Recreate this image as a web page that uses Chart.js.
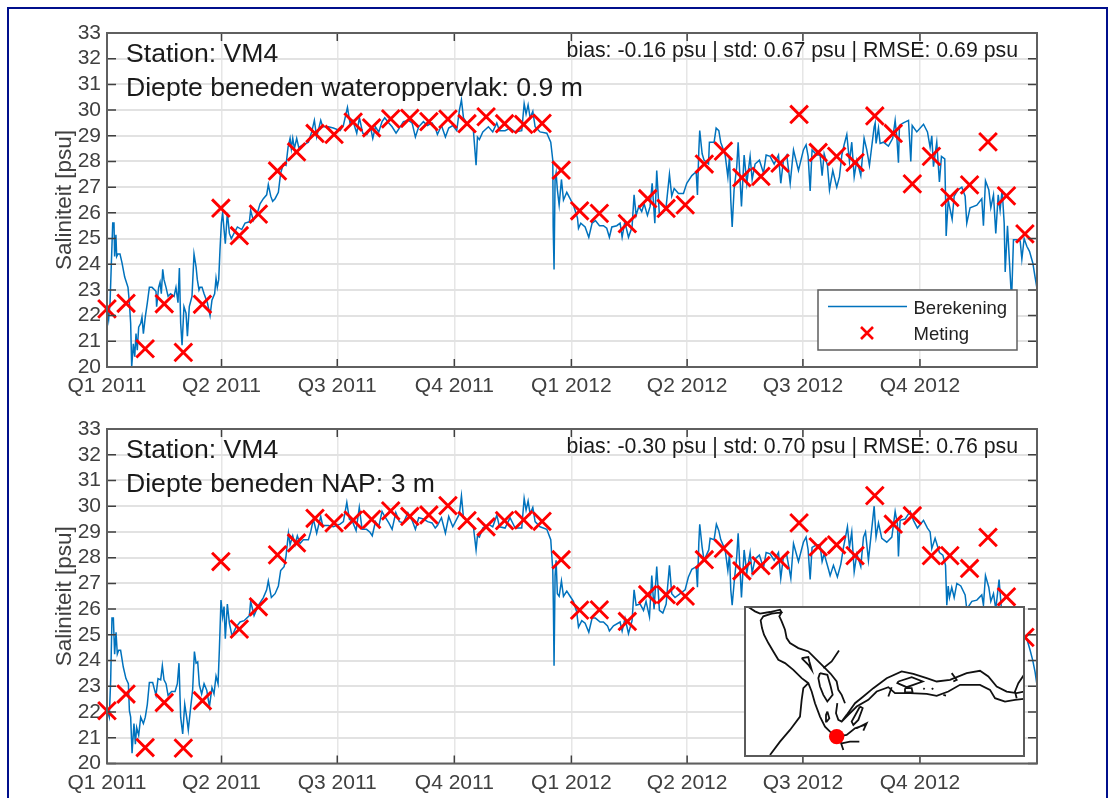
<!DOCTYPE html>
<html>
<head>
<meta charset="utf-8">
<script src="https://cdn.jsdelivr.net/npm/chart.js@4/dist/chart.umd.min.js"></script>
<style>
html,body{margin:0;padding:0;background:#fff;width:1108px;height:798px;overflow:hidden}
canvas{position:absolute;display:block}
#frame{position:absolute;left:7px;top:7px;width:1097px;height:900px;border:2px solid #000f8c;box-sizing:content-box}
#c1{left:0;top:0}
#c2{left:0;top:396px}
#map{left:745px;top:607px;background:#fff;outline:2px solid #5a5a5a;outline-offset:-1px}
</style>
</head>
<body>
<div id="frame"></div>
<canvas id="c1" width="1108" height="400"></canvas>
<canvas id="c2" width="1108" height="402"></canvas>
<canvas id="map" width="279" height="149"></canvas>
<script>
const quarterDays = [0,90,181,273,365,456,547,639];
const quarterLabels = ['Q1 2011','Q2 2011','Q3 2011','Q4 2011','Q1 2012','Q2 2012','Q3 2012','Q4 2012'];
const meetDays = [0,15,30,45,60,75,89.5,104,119,134,149,163.5,178.5,193.5,208,223,238,253,268,283,298,312.5,327.5,342,357,371.5,387,409,425,439.5,454.5,469.5,484.5,499,514,529,544,559,573.5,588,603.5,618,633,648,662.5,678,692.5,707,721.5];
const meetVals1 = [22.26,22.48,20.71,22.46,20.57,22.44,26.18,25.11,25.95,27.63,28.37,29.09,29.05,29.53,29.31,29.66,29.68,29.55,29.65,29.47,29.74,29.47,29.44,29.48,27.66,26.08,25.98,25.58,26.55,26.17,26.31,27.9,28.4,27.37,27.42,27.93,29.83,28.35,28.2,27.96,29.77,29.09,27.13,28.2,26.6,27.09,28.76,26.66,25.18];
const meetVals2 = [22.05,22.7,20.62,22.37,20.6,22.44,27.85,25.22,26.09,28.11,28.57,29.53,29.35,29.46,29.49,29.82,29.6,29.66,30.02,29.44,29.2,29.44,29.47,29.41,27.92,25.96,25.97,25.52,26.56,26.56,26.5,27.92,28.36,27.49,27.69,27.9,29.35,28.42,28.5,28.08,30.41,29.3,29.63,28.08,28.08,27.58,28.79,26.48,24.9];

const lineDays1 = [0.3,1.3,2.4,3.4,4.5,5.5,6,7,7.6,8.6,10.2,11.8,13.9,16.5,17.6,18.6,19.4,20.7,21.8,22.8,23.8,24.9,26.5,27.5,28.6,30.1,31.7,33.3,35.4,38.5,39,40.6,41.7,42.7,43.8,44.8,46.4,48,50,52.7,54.2,55.8,56.9,57.9,59,60.5,62.1,63.2,64.7,66.8,68.4,70,71,72.3,73.1,74.7,76.3,78.9,81,82.5,84.6,85.7,86.7,87.8,88.8,89.9,90.9,92,93,94.6,96.2,97.7,99.8,102.5,105.9,108.5,111.9,112.9,115,118.2,120.3,122.9,125.5,126.8,128.7,130.2,132.1,134.7,136.5,138.6,140.7,142.3,143.9,144.9,146,147.3,149.1,150.7,154.3,158.3,160.9,163,164.8,168,169.5,174,177.9,
183.2,185.8,189,191,193.2,196.3,198.4,201,204.2,207.3,208.9,211,213.6,216.2,218.3,221.5,224.1,227.2,229.8,233,236.9,239.8,242.4,245,248.7,251.9,255.5,258.1,259.7,262.9,266,268.6,271.8,274.9,277,278.6,280.2,284.1,288,290.1,291.2,292.7,295.4,299.8,303.2,306.4,308.5,312.9,316.8,320.8,326,327.9,329.4,331,332.6,334.7,336.5,340.4,345.7,348.8,350.4,350.7,351.4,352.2,353,354,355.4,357.2,358.8,361.4,
364,366.6,369.8,370.6,372.4,375.8,378.7,381.3,383.9,387.1,390.2,392.8,394.9,396.8,400.7,403.3,404.9,407,409.9,412.7,414.3,415.9,418,420.3,422.2,424.8,426.9,428.5,430.6,432.1,434.2,436.9,439.5,442.1,443.9,445.8,449.2,453.1,455.7,459.7,463.1,464.1,465.2,465.9,467.8,469.3,472.8,473.5,477.2,478.8,480.9,482.4,485.9,488,489.3,490.3,491.4,492.9,495,496.1,497.6,498.7,500.8,502.9,505.5,507.1,509.4,512.8,516,518.1,521.2,524.4,527.8,529.6,531.7,534.3,537,539.6,543.5,
547.4,549.5,551.1,552.7,554.2,557.9,560.5,562.1,563.7,566.3,567.9,570.5,573.6,575.7,577.6,579.4,581.5,583.6,585.4,587.3,589.4,592.5,595.1,597.2,599.3,603,603.8,604.5,606.4,607.7,610.3,614.2,617.6,619.5,620.8,622.1,622.9,626,630,631.8,632.9,636.5,641.8,644.9,647,648.3,649.6,652.2,654.3,655.9,658.5,659.1,659.6,661.2,664.3,665.9,669,671.9,674.5,675.8,678.4,683.7,687.6,688.9,690.5,693.1,694.7,696.8,698.6,700.5,702,703.6,705.2,706,707.8,709.4,711,712.5,715.1,717.8,719.1,720.9,723,725.1,727.7,729.5,731];
const lineVals1 = [22.2,21.85,22.5,24,25.6,25.6,24.3,25.15,24.3,24.4,24.4,24.05,23.5,23.1,22.5,21.7,20,20.9,20.4,21.3,20.65,21.55,21.7,21.95,21.3,21.95,22.5,23.1,23.1,22.95,22.35,23.1,23.3,22.85,23.8,23.4,23.1,22.75,22.85,22.75,23.1,22.5,23.85,21.7,20.85,22.35,22.1,21.2,22.35,22.75,24.4,23.9,23.4,23,23.1,23.1,22.85,22.5,22,22.6,22.85,23.45,23.1,23.4,24.55,25.6,26,25.35,24.8,26,25.2,25,25.2,25.45,25.35,25.6,25.65,26.1,25.7,26,26.35,26.55,26.7,27.1,26.65,26.45,26.55,26.8,27.55,27.9,27.85,28.55,28.9,28.5,28.9,28.5,28.9,28.55,28.65,28.75,29.15,29.6,28.95,29.6,29.35,29.35,29.3,
29.2,29.4,30.1,29.5,29.6,29.1,29.7,29.1,29.05,29.3,28.9,29.35,29.15,29.55,29.7,29.5,29.35,29.1,29.3,29.55,29.6,29.5,28.95,29.35,29.55,29.4,29.5,29.3,29.05,29.4,28.95,29.3,29.4,29.2,30,30.4,29.7,29.4,29.2,27.85,28.95,28.85,29.15,29.35,29.15,29.5,29.2,29.2,29.3,29.15,29.2,30.25,29.85,30.2,29.7,29.95,29.35,29.15,29.1,28.75,28.05,25.45,23.8,27.3,27.55,26.9,26.3,27.3,26.5,26.8,
26.55,26.3,25.8,25.4,25.6,25.45,25.05,25.6,25.7,25.5,25.5,25.4,25.05,25.45,25.5,25.6,25.05,25.65,25.05,25.45,26.7,25.9,26.25,26.05,26.35,25.9,26.25,27.15,25.6,27.65,25.9,26,26.25,27.5,26.65,26.95,26.75,26.75,27.15,27.45,27.6,26.7,28.45,29.2,28.3,28.05,27.9,28.75,28.75,29.3,29.2,28.75,28.25,27.4,28.2,26.5,25.45,26.9,27.8,28.75,27.3,26.25,28.25,27.15,28.2,27.3,27.9,28.05,27.55,28.25,28.2,27.9,28.25,27.15,28.05,28.25,27.15,28.45,27.65,
28.45,28.65,28.2,26.85,28.45,28.25,28.25,27.45,28.3,27.85,26.9,27.65,27,27.4,28.25,28.65,29.05,28,28.75,27.4,28.05,27.45,28.9,28.45,27.85,29.35,29.5,28.7,29.3,28.7,28.75,28.6,28.9,29.6,28.95,27.95,29.4,29.5,29.6,28,29.4,29.15,29.45,29.15,28.55,29,27.8,28.75,27.2,28.2,28.1,26.65,25.1,26.5,25.75,26.65,26.9,27,26.65,25.6,26.2,26.3,26.55,25.5,27.25,26.9,26.2,26.7,25.2,26.7,26.1,26.9,25.6,23.7,25.5,24.05,22.6,24.95,24.95,24.9,24.2,25,24.7,24.5,24.05,23.5,23.05];

const lineDays2 = [0.3,1.8,2.9,3.9,5,6,7.1,8.1,9.2,10.7,12.8,14.9,16.8,17.6,18.6,19.7,21.2,22.3,23.3,24.9,26.5,28.6,30.1,31.7,33.3,35.9,38.5,40.1,42.2,43.5,44.8,46.4,48,50.8,53.5,55.3,56.6,57.9,59.5,61.1,62.6,63.9,65.8,67.3,68.7,70,71.3,72.6,74.4,76.3,78.4,80.5,82.5,84.1,85.7,87.3,88.3,89.6,90.9,92,93,94.6,96.2,98.3,101.4,104.6,107.7,111.9,112.9,115.6,119,122.9,125.5,126.8,129.2,132.1,134.7,136.5,139.2,140.7,142.6,143.9,146,147.8,149.6,151.7,154.3,158.3,160.1,162.2,164.8,168,169.5,174,177.9,
183.2,185.8,188.5,190.5,193,195.8,198.3,200.5,204,206.5,208.5,211,213.6,216.2,218.3,221.5,224.1,227,229.8,233,236.5,239.8,242.4,245,248.7,252,255.5,258,259.7,262.9,266,268.6,271.8,274.9,277,278.6,280.2,284,288,290.1,291.2,292.7,295.4,299.8,303.2,306.4,308.5,312.9,316.8,320.8,326,327.9,329.4,331,332.6,334.7,336.5,340.4,345.7,348.8,350.4,350.9,351.4,352.2,353,354,355.4,357.2,358.8,361.4,
364,366.6,369.2,370.6,373.2,375.8,378.7,381.3,383.9,387.6,390.2,393.4,394.9,398.1,403.3,404.9,407.2,409.9,412.7,414.3,415.9,419,421.7,423.7,426.4,428.2,430,432.1,434.2,436.9,439.5,442.1,443.9,446.5,450.5,454.4,457,459.7,463.1,464.1,465.2,465.9,467.8,469.3,473,474.1,477.2,479,480.9,482.4,485.9,488,489.3,490.3,491.4,492.9,495,496.1,497.6,498.7,500.8,502.9,505.5,507.1,509.4,512.8,516,518.1,521.2,524.4,527.8,529.6,531.7,534.3,537.5,539.6,543.5,
547.4,549.5,551.1,552.7,554.2,557.9,560.5,562.1,563.7,567.1,568.4,571,574.1,576.8,578.9,582,583.6,585.4,587.3,589.4,592.5,594.6,596.2,598.5,603,604.5,606.4,609,612.9,616.9,619.5,621.3,622.1,623.4,627.3,631.3,633.9,637,641.8,644.9,647,648.3,650.9,654.3,657,659.1,660.1,661.2,662.2,664,665.9,668,671.1,674.5,675.8,679.8,683.7,687.6,688.9,690.5,693.1,694.7,696.8,698.6,701.2,702.8,704.7,706.7,708.6,709.9,712.5,715.1,717.8,720.9,723,725.6,727.7,729.5,731];
const lineVals2 = [22.05,21.8,23.25,25.65,25.65,24.25,25.1,24.25,24.4,24.4,23.75,23.3,23.1,22.05,21.8,20.4,21.55,20.75,21.4,21.1,21.8,21.55,21.8,22.3,23.15,23.15,22.65,23.3,23.25,23.8,23.25,23.1,22.65,22.8,22.8,23.1,23.9,21.8,21.15,22.3,21.8,21.3,22.2,22.85,24.35,23.9,23.95,23.05,22.7,23.1,22.85,22.2,22.95,22.7,23.4,23.1,24.4,26.35,25.7,26.1,24.85,26.2,25.45,24.95,25.3,25.5,25.55,25.75,26.3,25.75,26.15,26.45,26.75,27.1,26.45,26.6,26.9,27.5,27.65,28.05,28.95,28.5,28.85,28.5,28.85,28.55,28.7,28.7,29,29.5,28.95,29.6,29.25,29.25,29.2,
29.3,29.4,30.15,29.5,29.4,29.05,29.95,29.1,29.1,29,28.85,29.4,29.2,29.8,29.6,29.35,29.1,29.75,29.4,29.35,29.75,29.45,29.1,29.55,29.5,29.4,29.35,29.15,29.25,29.55,28.95,29.6,29.2,29.5,29.7,30.4,29.55,29.4,29.2,28.3,28.85,28.8,29.15,29.3,29.2,29.65,29.2,29.15,29.55,29.15,29.15,30.3,29.85,30.2,29.7,29.95,29.4,29.2,29.1,28.7,27.5,26,23.8,27.3,27.9,26.6,26.5,27.1,26.5,26.7,
26.5,26.3,25.9,25.3,25.55,25.45,25.1,25.65,25.65,25.5,25.5,25.35,25.15,25.35,25.5,25.15,25.65,25.05,25.55,26.75,26.15,26.2,25.95,26.3,25.7,27.3,26,27.65,25.95,25.85,26.2,27.7,26.6,26.45,26.6,26.75,27.25,27.55,27.65,26.85,28.6,29.3,28.4,27.9,28.3,28.75,28.7,29.3,29.05,28.7,28.3,27.5,28.15,26.75,26.15,27,28.05,28.95,27.5,26.45,28.3,27.4,28.2,27.4,27.95,28.1,27.6,28.2,28.15,27.9,28.2,27.2,28.05,28.1,27.2,28.55,27.85,
28.6,28.8,28.3,27.15,28.4,28.5,28.5,27.85,28.15,27.55,27.3,27.7,27.25,27.75,28.4,29.2,28.4,29,27.45,28.15,27.65,28.8,29,27.9,30,28.8,29.35,28.75,28.6,28.8,29.8,29.3,28.05,29.45,29.5,29.8,29.45,29.15,29.45,29.15,29,28.35,28.75,28.2,28.1,27.7,26.15,26.9,26.45,26.85,26.45,27,26.9,26.55,26,26.3,26.35,26.55,26.15,27.3,26.85,26.3,26.6,26,27.15,26.15,25.55,24.55,23.5,23.25,25.15,25.15,25.05,25,24.85,24.4,24,23.55,23.05];

// inset map outline, in the inset's own map units; null separates outline pieces
const mapX = [25,45,60,90,120,125,95,70,62,66,72,85,100,115,135,160,185,205,215,225,240,255,270,290,320,345,375,null,
125,118,125,135,140,150,175,205,225,250,272,290,295,305,315,null,
292,288,295,305,320,345,370,400,440,485,520,560,590,630,680,720,745,770,800,830,852,null,
305,325,350,385,410,445,465,510,560,590,625,660,720,750,765,795,825,852,null,
250,275,297,null,
205,190,185,180,150,120,90,null,
240,262,272,278,262,250,240,235,240,null,
185,205,208,215,205,190,185,null,
262,268,260,258,262,null,
360,368,355,340,335,360,null,
475,515,548,520,500,472,475,null,
495,515,518,495,495,null,
305,330,358,null,300,310,null,350,380,370,null,
852,835,825,830,null,635,650,640,null,455,445,null,550,554,null,575,580,null,610,618];
const mapY = [22,35,42,37,30,38,42,50,62,85,105,130,155,180,190,210,235,250,275,310,350,380,395,410,405,385,375,null,
38,50,65,90,115,130,145,155,175,200,222,245,270,285,310,null,
310,340,360,365,345,310,290,265,235,215,222,235,245,240,220,213,230,260,275,280,275,null,
365,345,320,300,275,262,280,280,282,288,275,255,255,270,295,305,300,297,null,
205,185,152,null,
250,265,300,350,390,425,465,null,
220,225,260,285,305,285,260,235,220,null,
175,172,185,210,195,180,175,null,
335,355,365,345,335,null,
320,325,360,375,365,320,null,
245,232,245,255,262,250,245,null,
265,265,278,278,265,null,
430,425,425,null,420,450,null,385,370,392,null,
225,250,275,295,null,220,240,245,null,262,290,null,265,268,null,265,268,null,285,287];
const mapStationX = [290];
const mapStationY = [410];

const panel1 = {station:'Station: VM4', depth:'Diepte beneden wateroppervlak: 0.9 m', stats:'bias: -0.16 psu | std: 0.67 psu | RMSE: 0.69 psu'};
const panel2 = {station:'Station: VM4', depth:'Diepte beneden NAP: 3 m', stats:'bias: -0.30 psu | std: 0.70 psu | RMSE: 0.76 psu'};
const yTitle = 'Saliniteit [psu]';
const legendLabels = ['Berekening','Meting'];

const FONT = '"Liberation Sans", Arial, sans-serif';
const zip = (xs, ys) => xs.map((x,i) => ({x, y: ys[i]}));

function panelPlugin(info, hasLegend){
  return {
    id:'panelDecor',
    afterDraw(chart){
      const {ctx, chartArea:a, scales:{x, y}} = chart;
      ctx.save();
      // inward ticks
      ctx.strokeStyle='#404040'; ctx.lineWidth=1.5; ctx.beginPath();
      y.ticks.forEach(t=>{const p=y.getPixelForValue(t.value);
        ctx.moveTo(a.left,p);ctx.lineTo(a.left+9,p);ctx.moveTo(a.right,p);ctx.lineTo(a.right-9,p);});
      x.ticks.forEach(t=>{const p=x.getPixelForValue(t.value);
        ctx.moveTo(p,a.top);ctx.lineTo(p,a.top+8);ctx.moveTo(p,a.bottom);ctx.lineTo(p,a.bottom-8);});
      ctx.stroke();
      // box
      ctx.strokeStyle='#5f5f5f'; ctx.lineWidth=2;
      ctx.strokeRect(a.left,a.top,a.right-a.left,a.bottom-a.top);
      // annotation text
      ctx.fillStyle='#1a1a1a'; ctx.textBaseline='alphabetic'; ctx.textAlign='left';
      ctx.font='26.6px '+FONT;
      ctx.fillText(info.station,a.left+19,a.top+29);
      ctx.fillText(info.depth,a.left+19,a.top+63);
      ctx.textAlign='right'; ctx.font='21.3px '+FONT;
      ctx.fillText(info.stats,a.right-19,a.top+24);
      if(hasLegend){
        const L=818,T=290,R=1017,B=350;
        ctx.fillStyle='#fff';ctx.fillRect(L,T,R-L,B-T);
        ctx.strokeStyle='#5f5f5f';ctx.lineWidth=1.5;ctx.strokeRect(L,T,R-L,B-T);
        ctx.strokeStyle='#0072BD';ctx.lineWidth=1.5;ctx.beginPath();ctx.moveTo(828,306.5);ctx.lineTo(907,306.5);ctx.stroke();
        ctx.strokeStyle='#ff0000';ctx.lineWidth=2.6;ctx.beginPath();
        ctx.moveTo(861,327);ctx.lineTo(873,339);ctx.moveTo(873,327);ctx.lineTo(861,339);ctx.stroke();
        ctx.fillStyle='#222';ctx.textAlign='left';ctx.font='18.5px '+FONT;
        ctx.fillText(legendLabels[0],913.5,314);
        ctx.fillText(legendLabels[1],913.5,340);
      }
      ctx.restore();
    }
  };
}

function makePanel(id, days, vals, meet, info, axisH, hasLegend){
  return new Chart(document.getElementById(id),{
    type:'line',
    data:{datasets:[
      {label:legendLabels[0],data:zip(days,vals),borderColor:'#0072BD',borderWidth:1.5,pointRadius:0,tension:0,order:2},
      {label:legendLabels[1],data:zip(meetDays,meet),showLine:false,pointStyle:'crossRot',pointRadius:12.5,pointBorderWidth:2.9,borderColor:'#ff0000',pointBorderColor:'#ff0000',backgroundColor:'#ff0000',clip:false,order:1}
    ]},
    options:{
      responsive:false,animation:false,devicePixelRatio:1,
      layout:{padding:{top:33,right:71,left:51,bottom:0}},
      plugins:{legend:{display:false},tooltip:{enabled:false}},
      scales:{
        x:{type:'linear',min:0,max:731,
          afterBuildTicks:s=>{s.ticks=quarterDays.map(value=>({value}));},
          afterFit:s=>{s.height=axisH;},
          ticks:{autoSkip:false,maxRotation:0,padding:7,color:'#404040',font:{family:FONT,size:21},callback:(v,i)=>quarterLabels[i]},
          grid:{color:'#e6e6e6',lineWidth:1.5,drawTicks:false},
          border:{display:false}},
        y:{type:'linear',min:20,max:33,
          afterFit:s=>{s.width=56;},
          ticks:{stepSize:1,padding:6,color:'#404040',font:{family:FONT,size:21},autoSkip:false},
          grid:{color:'#e2e2e2',lineWidth:2,drawTicks:false},
          border:{display:false},
          title:{display:true,text:yTitle,color:'#404040',font:{family:FONT,size:22.5},padding:{top:0,bottom:2}}}
      }
    },
    plugins:[panelPlugin(info,hasLegend)]
  });
}
makePanel('c1',lineDays1,lineVals1,meetVals1,panel1,33,true);
makePanel('c2',lineDays2,lineVals2,meetVals2,panel2,34.5,false);

new Chart(document.getElementById('map'),{
  type:'scatter',
  data:{datasets:[
    {data:mapStationX.map((x,i)=>({x,y:mapStationY[i]})),pointRadius:7.7,pointBackgroundColor:'#ff0000',pointBorderWidth:0,order:1},
    {data:mapX.map((x,i)=>({x,y:mapY[i]})),showLine:true,spanGaps:false,borderColor:'#111',borderWidth:1.8,pointRadius:0,order:2}
  ]},
  options:{responsive:false,animation:false,devicePixelRatio:1,
    layout:{padding:0,autoPadding:false},
    plugins:{legend:{display:false},tooltip:{enabled:false}},
    scales:{x:{type:'linear',display:false,min:15,max:852},y:{type:'linear',display:false,min:22,max:468,reverse:true}}}
});
</script>
</body>
</html>
